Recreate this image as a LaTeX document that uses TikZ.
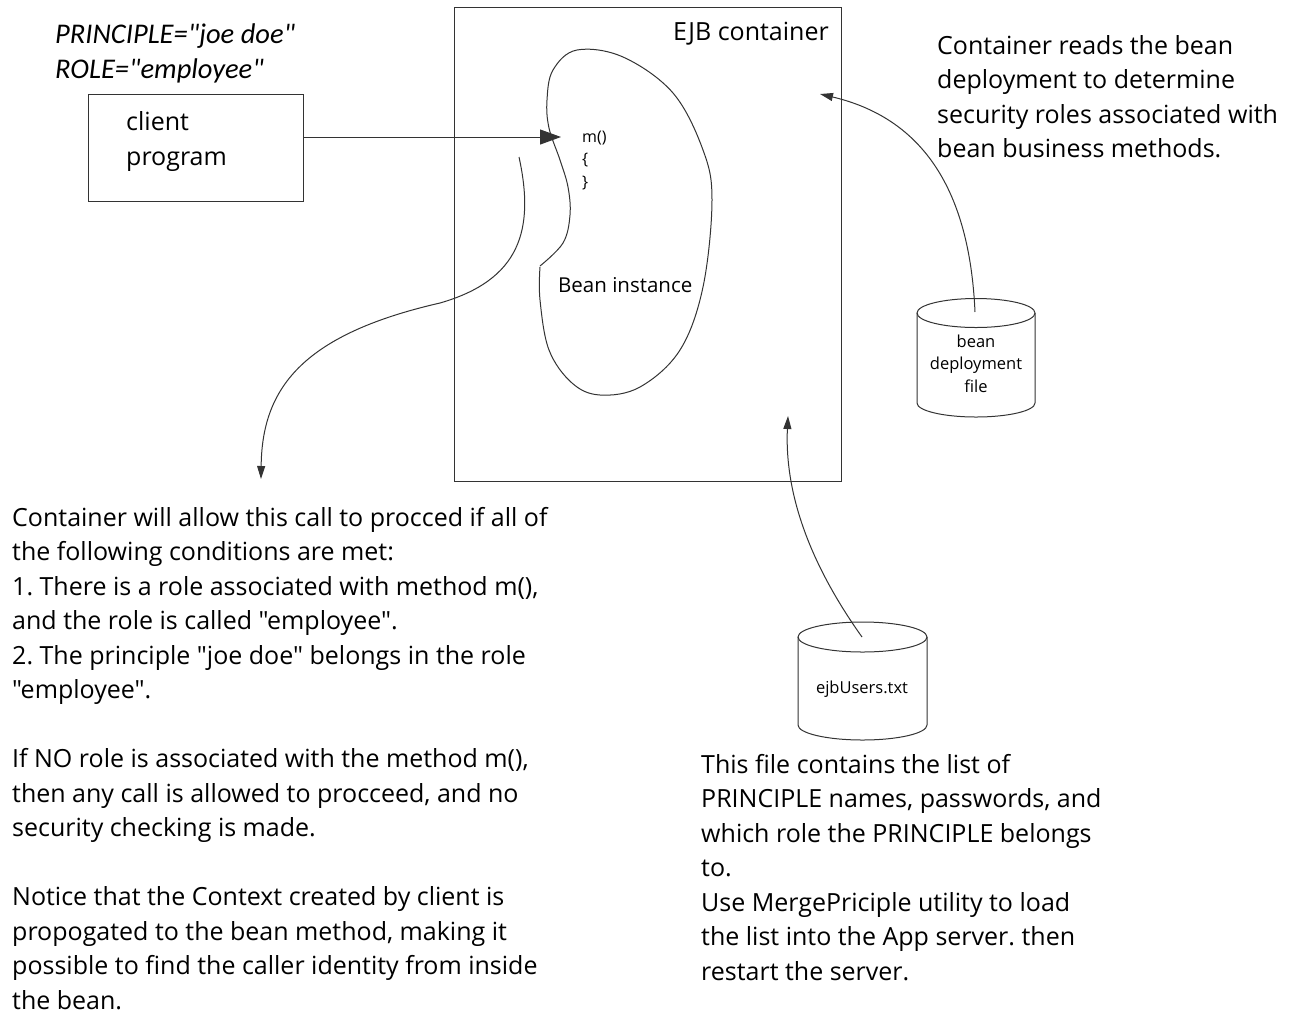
\documentclass[tikz,border=0pt]{standalone}
\usepackage{fontspec}
\setmainfont{Open Sans}
\newfontfamily\osans{Open Sans}
\newfontfamily\calibrifont{Carlito}
\usetikzlibrary{arrows.meta}
\newcommand\dq{\symbol{34}}
\frenchspacing
\tikzset{
  txt/.style={inner sep=0pt, align=left, font=\osans\fontsize{25}{34.5}\selectfont},
  small/.style={inner sep=0pt, align=center, font=\osans\fontsize{16.5}{22.5}\selectfont},
  line/.style={draw=black!80, line width=1pt},
  bigtip/.style={-{Triangle[length=21pt,width=15pt]}},
  smalltip/.style={-{Triangle[length=13pt,width=8pt]}},
  box/.style={draw=black!80, line width=1pt, inner sep=0pt}
}
\begin{document}
\begin{tikzpicture}[x=1pt,y=-1pt]
\useasboundingbox (0,0) rectangle (1291,1013);
% principle / role
\node[txt, anchor=base west, font=\calibrifont\itshape\fontsize{28.5}{35}\selectfont] (cred) at (55,78) {PRINCIPLE=\dq joe doe\dq\\ROLE=\dq employee\dq};
% client
\node[box, minimum width=215pt, minimum height=107pt] (client) at (195.5,147.5) {};
\node[txt, anchor=base west, font=\osans\fontsize{25}{35}\selectfont] (clienttxt) at (126,165) {client\\program};
% container
\node[box, minimum width=387pt, minimum height=474pt] (ejb) at (647.5,244) {};
\node[txt, anchor=base east] (ejbtxt) at (829,40) {EJB container};
% bean
\draw[line] plot[smooth, tension=0.6] coordinates {(540,267) (540,300) (549,350) (572,383) (600,395) (640,387) (680,350) (703,287) (712,200) (703,150) (673,93) (623,57) (577,50) (553,70) (547,100) (549,128) (560,160) (568,187) (570,215) (563,243) (540,266)};
\node[small, anchor=base west, align=left, font=\osans\fontsize{16}{22.2}\selectfont] (mcode) at (582,187) {m()\\\{\\\}};
\node[txt, anchor=base west, font=\osans\fontsize{20.5}{30}\selectfont] (beantxt) at (558,292) {Bean instance};
% arrow client -> bean
\coordinate (mtip) at (561,137);
\draw[line, bigtip] (client.east |- mtip) -- (mtip);
% left curve
\coordinate (lstart) at (519,157);
\coordinate (lend) at (261,479);
\draw[line, smalltip] (lstart) .. controls (535,230) and (520,280) .. (440,303) .. controls (300,335) and (262,390) .. (lend);
% cylinders
\node[inner sep=0pt, minimum width=118pt, minimum height=120pt] (bdf) at (976,357.5) {};
\draw[line] (917,313) -- (917,403) arc[start angle=180, end angle=0, x radius=59, y radius=14] -- (1035,313);
\draw[line] (976,313) ellipse[x radius=59, y radius=14.5];
\node[small, anchor=base] (bdftxt) at (976,392) {bean\\deployment\\file};
\node[inner sep=0pt, minimum width=129pt, minimum height=120pt] (users) at (862.5,681) {};
\draw[line] (798,637) -- (798,725) arc[start angle=180, end angle=0, x radius=64.5, y radius=15] -- (927,637);
\draw[line] (862.5,637) ellipse[x radius=64.5, y radius=15];
\node[small, anchor=base] (userstxt) at (862,693) {ejbUsers.txt};
% arrows from cylinders
\coordinate (bdfstart) at (975,312);
\coordinate (bdftip) at (820,94);
\draw[line, smalltip] (bdfstart) .. controls (970,200) and (930,120) .. (bdftip);
\coordinate (usersstart) at (862,637);
\coordinate (userstip) at (788,416);
\draw[line, smalltip] (usersstart) .. controls (800,550) and (785,480) .. (userstip);
% texts
\node[txt, anchor=base west] (rtxt) at (937,157.5) {Container reads the bean\\deployment to determine\\security roles associated with\\bean business methods.};
\node[txt, anchor=base west] (ltxt) at (12,1009) {Container will allow this call to procced if all of\\the following conditions are met:\\1. There is a role associated with method m(),\\and the role is called \dq employee\dq.\\2. The principle \dq joe doe\dq{} belongs in the role\\\dq employee\dq.\\[34.5pt]If NO role is associated with the method m(),\\then any call is allowed to procceed, and no\\security checking is made.\\[34.5pt]Notice that the Context created by client is\\propogated to the bean method, making it\\possible to find the caller identity from inside\\the bean.};
\node[txt, anchor=base west] (btxt) at (701,980) {This file contains the list of\\PRINCIPLE names, passwords, and\\which role the PRINCIPLE belongs\\to.\\Use MergePriciple utility to load\\the list into the App server. then\\restart the server.};
\end{tikzpicture}
\end{document}
